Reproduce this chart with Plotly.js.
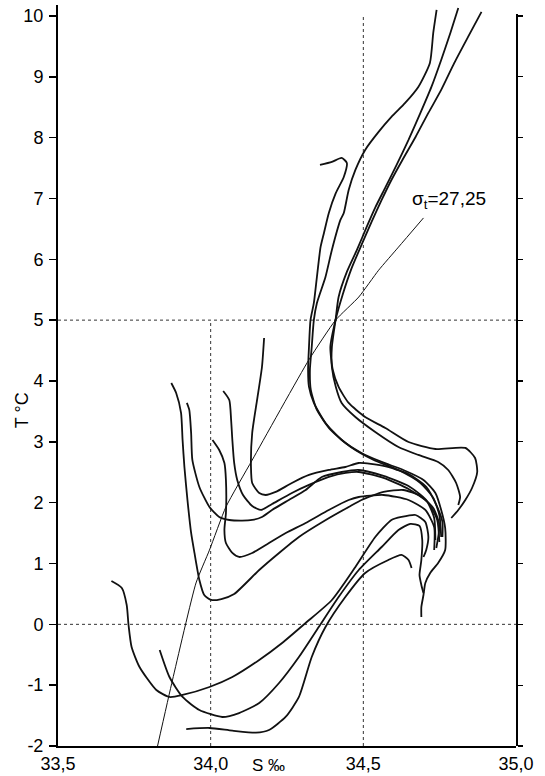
<!DOCTYPE html>
<html>
<head>
<meta charset="utf-8">
<script src="https://cdn.plot.ly/plotly-3.0.1.min.js"></script>
<style>html,body{margin:0;padding:0;background:#fff;}#chart{width:545px;height:776px;}</style>
</head>
<body>
<div id="chart"></div>
<script>
// ---- Data: salinity S (per mille) and temperature T (deg C) of each T-S curve ----
const sTop1 = [34.358,34.397,34.429,34.446,34.436,34.410,34.387,34.371,34.360,34.348,34.338,34.327,34.322,34.319,34.322,34.338,34.376,34.429,34.494,34.560,34.631,34.697,34.736,34.755,34.768,34.768,34.745,34.719,34.703,34.697,34.690,34.690];
const tTop1 = [7.551,7.600,7.666,7.584,7.354,7.091,6.762,6.433,6.203,5.710,5.282,5.003,4.559,4.181,3.902,3.639,3.310,3.030,2.817,2.669,2.537,2.373,2.159,1.880,1.584,1.222,1.008,0.844,0.680,0.482,0.285,0.121];

const sTop2 = [34.740,34.729,34.718,34.680,34.637,34.592,34.550,34.506,34.474,34.452,34.436,34.425,34.397,34.376,34.348,34.338,34.331,34.325,34.328,34.348,34.393,34.459,34.534,34.615,34.687,34.729,34.749,34.755];
const tTop2 = [10.099,9.721,9.228,8.833,8.570,8.340,8.094,7.798,7.469,7.140,6.762,6.647,6.154,5.710,5.282,5.003,4.559,4.181,3.852,3.524,3.195,2.915,2.702,2.537,2.323,2.077,1.797,1.436];

const sTop3 = [34.811,34.785,34.755,34.723,34.687,34.648,34.609,34.573,34.540,34.511,34.479,34.446,34.419,34.409,34.397,34.397,34.410,34.429,34.474,34.539,34.615,34.680,34.745,34.778,34.804,34.817,34.811];
const tTop3 = [10.132,9.721,9.277,8.833,8.406,7.962,7.551,7.189,6.861,6.532,6.154,5.792,5.381,5.003,4.559,4.230,3.902,3.639,3.408,3.162,2.915,2.784,2.669,2.537,2.323,2.093,1.962];

const sTop4 = [34.887,34.843,34.798,34.755,34.713,34.671,34.628,34.592,34.560,34.527,34.494,34.462,34.432,34.409,34.392,34.400,34.419,34.452,34.506,34.572,34.648,34.736,34.834,34.866,34.873,34.856,34.834,34.811,34.788];
const tTop4 = [10.066,9.655,9.228,8.784,8.406,8.011,7.633,7.304,6.976,6.614,6.236,5.858,5.414,5.003,4.559,4.181,3.902,3.639,3.408,3.228,2.997,2.882,2.899,2.734,2.504,2.241,2.044,1.880,1.748];

const sLow1 = [33.871,33.887,33.903,33.908,33.914,33.924,33.936,33.947,33.963,33.979,34.002,34.035,34.077,34.159,34.224,34.289,34.377,34.452,34.494,34.566,34.631,34.687,34.729,34.749,34.739];
const tLow1 = [3.967,3.803,3.474,3.030,2.586,2.044,1.502,1.173,0.729,0.482,0.400,0.416,0.499,0.893,1.173,1.436,1.715,1.929,2.044,2.176,2.208,2.110,1.913,1.633,1.255];

const sLow2 = [33.922,33.930,33.936,33.940,33.963,33.996,34.028,34.061,34.103,34.136,34.168,34.201,34.256,34.311,34.364,34.429,34.485,34.566,34.648,34.706,34.732,34.736];
const tLow2 = [3.639,3.524,3.145,2.702,2.258,1.929,1.765,1.715,1.704,1.715,1.765,1.880,2.044,2.208,2.422,2.504,2.537,2.439,2.274,2.044,1.748,1.386];

const sLow3 = [34.041,34.061,34.067,34.071,34.077,34.087,34.106,34.136,34.165,34.201,34.266,34.322,34.387,34.442,34.485,34.566,34.648,34.713,34.742,34.749];
const tLow3 = [3.836,3.688,3.359,3.030,2.652,2.373,2.126,1.945,1.880,1.978,2.159,2.291,2.422,2.488,2.504,2.406,2.225,1.995,1.715,1.354];

const sLow4 = [34.006,34.028,34.045,34.050,34.050,34.045,34.050,34.071,34.093,34.136,34.191,34.246,34.311,34.387,34.452,34.485,34.566,34.648,34.703,34.732,34.732];
const tLow4 = [3.030,2.866,2.652,2.373,1.830,1.551,1.337,1.173,1.107,1.173,1.337,1.502,1.666,1.880,2.044,2.093,2.126,2.044,1.880,1.600,1.222];

const sLow5 = [34.175,34.168,34.152,34.136,34.132,34.136,34.159,34.180,34.213,34.266,34.322,34.387,34.441,34.485,34.566,34.648,34.706,34.739,34.759,34.759];
const tLow5 = [4.707,4.230,3.688,3.145,2.586,2.323,2.159,2.126,2.176,2.323,2.455,2.537,2.586,2.652,2.603,2.471,2.258,1.962,1.683,1.436];

const sLow6 = [33.675,33.709,33.725,33.731,33.741,33.767,33.822,33.865,33.908,33.996,34.071,34.159,34.234,34.311,34.397,34.474,34.539,34.592,34.625,34.671,34.703,34.713,34.706,34.697];
const tLow6 = [0.712,0.597,0.318,-0.011,-0.373,-0.701,-1.079,-1.194,-1.161,-1.030,-0.866,-0.586,-0.307,0.022,0.400,0.943,1.436,1.715,1.765,1.797,1.683,1.436,1.222,1.107];

const sLow7 = [33.833,33.865,33.908,33.963,34.038,34.093,34.159,34.224,34.289,34.354,34.419,34.485,34.560,34.615,34.654,34.684,34.693,34.690,34.684,34.690,34.697];
const tLow7 = [-0.422,-0.866,-1.194,-1.408,-1.523,-1.458,-1.293,-0.964,-0.537,-0.044,0.449,0.893,1.271,1.551,1.650,1.617,1.386,1.058,0.811,0.647,0.515];

const sLow8 = [33.920,33.996,34.071,34.148,34.191,34.246,34.289,34.331,34.376,34.441,34.506,34.582,34.625,34.648,34.658];
const tLow8 = [-1.721,-1.704,-1.748,-1.781,-1.737,-1.518,-1.194,-0.537,-0.044,0.449,0.844,1.058,1.140,1.058,0.926];

// sigma-t = 27.25 isopycnal
const sSigma = [33.826,33.875,33.952,33.996,34.050,34.136,34.322,34.409,34.485,34.550,34.615,34.697];
const tSigma = [-2.0,-0.915,0.680,1.220,1.930,2.700,4.350,5.000,5.380,5.820,6.200,6.680];

const xTickVals = [33.5, 34.0, 34.5, 35.0];
const xTickText = ["33,5", "34,0", "34,5", "35,0"];
const yTickVals = [-2,-1,0,1,2,3,4,5,6,7,8,9,10];
const yTickText = ["-2","-1","0","1","2","3","4","5","6","7","8","9","10"];
const sigmaLabel = "σ<sub>t</sub>=27,25";
const xTitle = "S ‰";
const yTitle = "T °C";

// ---- Build traces ----
const curves = [
  [sTop1,tTop1],[sTop2,tTop2],[sTop3,tTop3],[sTop4,tTop4],
  [sLow1,tLow1],[sLow2,tLow2],[sLow3,tLow3],[sLow4,tLow4],
  [sLow5,tLow5],[sLow6,tLow6],[sLow7,tLow7],[sLow8,tLow8]
];
const traces = curves.map(c => ({
  x: c[0], y: c[1], type: 'scatter', mode: 'lines',
  line: {color: '#111', width: 1.8, shape: 'spline', smoothing: 0.6},
  hoverinfo: 'skip', showlegend: false
}));
traces.push({
  x: sSigma, y: tSigma, type: 'scatter', mode: 'lines',
  line: {color: '#111', width: 1, shape: 'spline', smoothing: 0.5},
  hoverinfo: 'skip', showlegend: false
});
// invisible trace to carry the right-hand axis
traces.push({x: [xTickVals[0]], y: [yTickVals[0]], yaxis: 'y2', type: 'scatter', mode: 'markers',
  marker: {opacity: 0}, hoverinfo: 'skip', showlegend: false});

const FONT = 'Liberation Sans, Arial, sans-serif';
const gridLine = {color: '#333', width: 1, dash: '3px,3px'};

const layout = {
  width: 545, height: 776,
  margin: {l: 58, r: 29, t: 5, b: 30},
  paper_bgcolor: '#fff', plot_bgcolor: 'rgba(0,0,0,0)',
  font: {family: FONT, color: '#000', size: 18},
  showlegend: false,
  xaxis: {
    range: [33.5, 35.0], showgrid: false, zeroline: false,
    showline: true, linecolor: '#000', linewidth: 2,
    ticks: '', tickvals: xTickVals, ticktext: xTickText,
    tickfont: {family: FONT, size: 18, color: '#000'}, anchor: 'y'
  },
  yaxis: {
    range: [-2, 10.18], showgrid: false, zeroline: false,
    showline: true, linecolor: '#000', linewidth: 2,
    ticks: 'outside', ticklen: 7, tickwidth: 1.5, tickcolor: '#000',
    tickvals: yTickVals, ticktext: yTickText, ticklabelstandoff: 2,
    tickfont: {family: FONT, size: 18, color: '#000'}, anchor: 'x'
  },
  yaxis2: {
    domain: [0, 0.9877], range: [-2, 10.03], anchor: 'x', side: 'right',
    showgrid: false, zeroline: false, showline: true, linecolor: '#000', linewidth: 2,
    ticks: 'outside', ticklen: 5, tickwidth: 1.2, tickcolor: '#000',
    tickvals: yTickVals, showticklabels: false
  },
  shapes: [
    {type: 'line', xref: 'x', yref: 'y', x0: 33.5, x1: 35.0, y0: 5, y1: 5, line: gridLine, layer: 'below'},
    {type: 'line', xref: 'x', yref: 'y', x0: 33.5, x1: 35.0, y0: 0, y1: 0, line: gridLine, layer: 'below'},
    {type: 'line', xref: 'x', yref: 'y', x0: 34.5, x1: 34.5, y0: -2, y1: 10, line: gridLine, layer: 'below'},
    {type: 'line', xref: 'x', yref: 'y', x0: 34.0, x1: 34.0, y0: -2, y1: 5, line: gridLine, layer: 'below'}
  ],
  annotations: [
    {text: sigmaLabel, xref: 'x', yref: 'y', x: 34.652, y: 6.98, xanchor: 'left', yanchor: 'middle',
     showarrow: false, font: {family: FONT, size: 19, color: '#000'}},
    {text: yTitle, xref: 'paper', yref: 'y', x: 0, y: 3.52, xshift: -36, textangle: -90,
     xanchor: 'center', yanchor: 'middle', showarrow: false, font: {family: FONT, size: 18, color: '#000'}},
    {text: xTitle, xref: 'x', yref: 'paper', x: 34.19, y: 0, yanchor: 'top', yshift: -8,
     showarrow: false, font: {family: FONT, size: 17, color: '#000'}}
  ]
};

Plotly.newPlot('chart', traces, layout, {staticPlot: true, displayModeBar: false});
</script>
</body>
</html>
